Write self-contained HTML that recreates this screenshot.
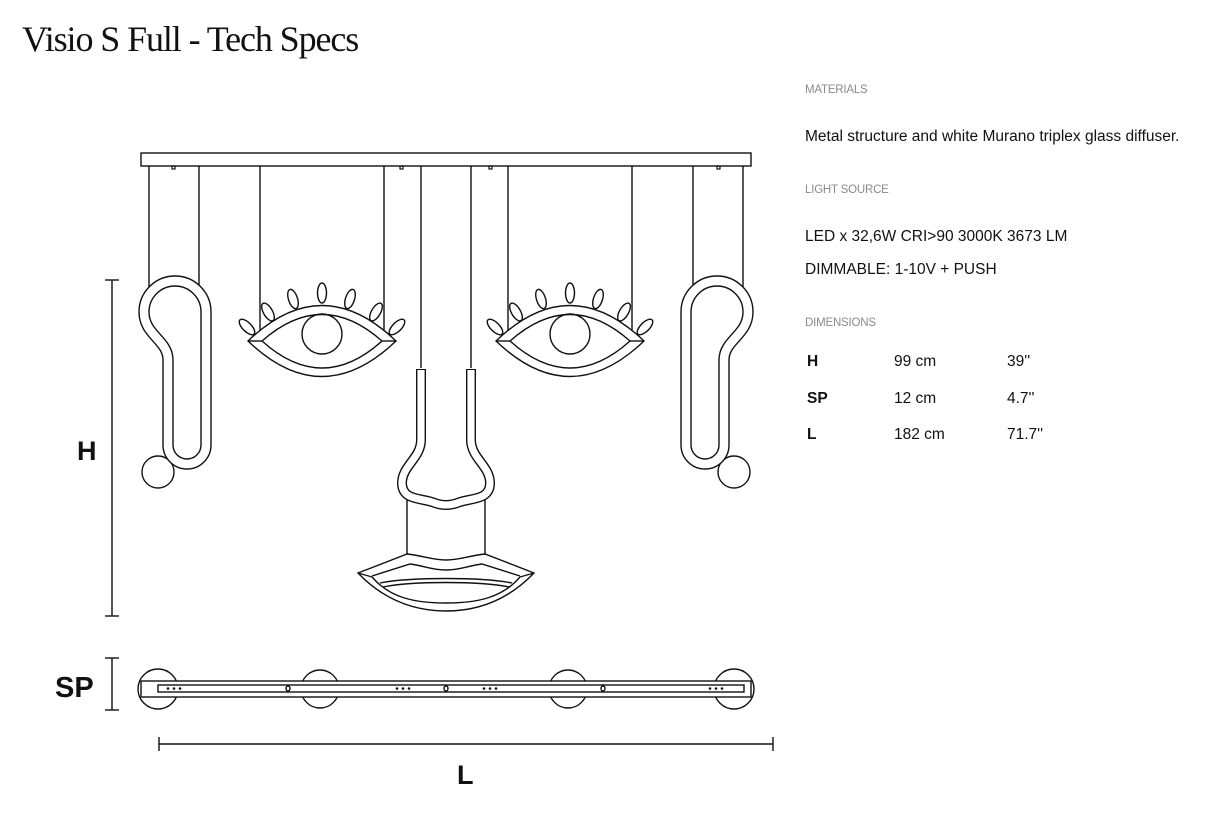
<!DOCTYPE html>
<html><head><meta charset="utf-8"><style>
html,body{margin:0;padding:0;background:#fff;}
body{width:1217px;height:824px;position:relative;overflow:hidden;font-family:"Liberation Sans",sans-serif;color:#111;}
.t{position:absolute;white-space:nowrap;}
.h{color:#8a8a8a;font-size:11.5px;letter-spacing:-0.2px;}
.b{font-size:15.5px;letter-spacing:0;}
</style></head><body>
<div class="t" style="left:22px;top:18px;font-family:'Liberation Serif',serif;font-size:36px;letter-spacing:-1.1px;">Visio S Full - Tech Specs</div>
<div class="t h" style="left:805px;top:84px;">MATERIALS</div>
<div class="t b" style="left:805px;top:128px;">Metal structure and white Murano triplex glass diffuser.</div>
<div class="t h" style="left:805px;top:184px;">LIGHT SOURCE</div>
<div class="t b" style="left:805px;top:228px;">LED x 32,6W CRI&gt;90 3000K 3673 LM</div>
<div class="t b" style="left:805px;top:261px;">DIMMABLE: 1-10V + PUSH</div>
<div class="t h" style="left:805px;top:317px;">DIMENSIONS</div>
<div class="t b" style="left:807px;top:353px;font-weight:bold;">H</div>
<div class="t b" style="left:894px;top:353px;">99 cm</div>
<div class="t b" style="left:1007px;top:353px;">39''</div>
<div class="t b" style="left:807px;top:390px;font-weight:bold;">SP</div>
<div class="t b" style="left:894px;top:390px;">12 cm</div>
<div class="t b" style="left:1007px;top:390px;">4.7''</div>
<div class="t b" style="left:807px;top:426px;font-weight:bold;">L</div>
<div class="t b" style="left:894px;top:426px;">182 cm</div>
<div class="t b" style="left:1007px;top:426px;">71.7''</div>

<svg width="1217" height="824" style="position:absolute;left:0;top:0" fill="none" stroke="#111" stroke-width="1.4">
<defs>
<g id="side">
 <line x1="149" y1="166" x2="149" y2="290"/><line x1="199" y1="166" x2="199" y2="290"/>
 <circle cx="158" cy="472" r="16" fill="#fff"/>
 <path d="M206 445 L206 312 A31 31 0 0 0 144 312 C144 335 168 340 168 360 L168 445 A19 19 0 0 0 206 445 Z" stroke-width="11.4"/>
 <path d="M206 445 L206 312 A31 31 0 0 0 144 312 C144 335 168 340 168 360 L168 445 A19 19 0 0 0 206 445 Z" stroke="#fff" stroke-width="8.6"/>
</g>
<g id="eye">
 <line x1="260" y1="166" x2="260" y2="333"/><line x1="384" y1="166" x2="384" y2="333"/>
 <g fill="#fff">
 <ellipse cx="247" cy="327" rx="4.5" ry="10" transform="rotate(-45 247 327)"/>
 <ellipse cx="268" cy="312" rx="4.5" ry="10" transform="rotate(-30 268 312)"/>
 <ellipse cx="293" cy="299" rx="4.5" ry="10" transform="rotate(-18 293 299)"/>
 <ellipse cx="322" cy="293" rx="4.5" ry="10"/>
 <ellipse cx="350" cy="299" rx="4.5" ry="10" transform="rotate(18 350 299)"/>
 <ellipse cx="376" cy="312" rx="4.5" ry="10" transform="rotate(30 376 312)"/>
 <ellipse cx="397" cy="327" rx="4.5" ry="10" transform="rotate(45 397 327)"/>
 </g>
 <path d="M248 341 Q322 270 396 341 Q322 412 248 341 Z" fill="#fff"/>
 <path d="M262 341 Q322 288 382 341 Q322 395 262 341 Z"/>
 <line x1="248" y1="341" x2="262" y2="341"/><line x1="382" y1="341" x2="396" y2="341"/>
 <circle cx="322" cy="334" r="20"/>
</g>
</defs>
<rect x="141" y="153" width="610" height="13"/>
<g stroke-width="1.2">
<rect x="172" y="166" width="3" height="3"/><rect x="400" y="166" width="3" height="3"/><rect x="489" y="166" width="3" height="3"/><rect x="717" y="166" width="3" height="3"/>
</g>
<use href="#side"/>
<use href="#side" transform="translate(892 0) scale(-1 1)"/>
<use href="#eye"/>
<use href="#eye" transform="translate(248 0)"/>
<line x1="421" y1="166" x2="421" y2="368"/><line x1="471" y1="166" x2="471" y2="368"/>
<line x1="407" y1="500" x2="407" y2="554"/><line x1="485" y1="500" x2="485" y2="554"/>
<path d="M421 369 L421 440 C421 458 402 466 402 483 C402 500 420 498 432 502 C442 506 450 506 460 502 C472 498 490 500 490 483 C490 466 471 458 471 440 L471 369" stroke-width="10"/>
<path d="M421 370 L421 440 C421 458 402 466 402 483 C402 500 420 498 432 502 C442 506 450 506 460 502 C472 498 490 500 490 483 C490 466 471 458 471 440 L471 370" stroke="#fff" stroke-width="7.2"/>
<path d="M358 573 L407 554 C425 556 432 560 446 560 C460 560 467 556 485 554 L534 573 C510 598 480 611 446 611 C412 611 382 598 358 573 Z" fill="#fff"/>
<path d="M372 576 L410 564 C425 566 432 570 446 570 C460 570 467 566 482 564 L520 576"/>
<path d="M372 577 C390 598 415 603 446 603 C477 603 502 598 520 577"/>
<path d="M380 583 C410 577 482 577 512 583"/>
<path d="M383 587 C412 581 480 581 509 587"/>
<line x1="358" y1="573" x2="372" y2="577"/><line x1="520" y1="577" x2="534" y2="573"/>
<g>
<circle cx="158" cy="689" r="20"/>
<circle cx="320" cy="689" r="19"/><circle cx="568" cy="689" r="19"/><circle cx="734" cy="689" r="20"/>
</g>
<rect x="141" y="681" width="610" height="16" fill="#fff"/>
<rect x="158" y="685" width="586" height="7"/>
<g fill="#111" stroke="none">
<circle cx="168" cy="688.5" r="1.3"/><circle cx="174" cy="688.5" r="1.3"/><circle cx="180" cy="688.5" r="1.3"/>
<circle cx="397" cy="688.5" r="1.3"/><circle cx="403" cy="688.5" r="1.3"/><circle cx="409" cy="688.5" r="1.3"/>
<circle cx="484" cy="688.5" r="1.3"/><circle cx="490" cy="688.5" r="1.3"/><circle cx="496" cy="688.5" r="1.3"/>
<circle cx="710" cy="688.5" r="1.3"/><circle cx="716" cy="688.5" r="1.3"/><circle cx="722" cy="688.5" r="1.3"/>
</g>
<ellipse cx="288" cy="688.5" rx="2" ry="2.5" fill="#fff"/><ellipse cx="446" cy="688.5" rx="2" ry="2.5" fill="#fff"/><ellipse cx="603" cy="688.5" rx="2" ry="2.5" fill="#fff"/>
<line x1="112" y1="280" x2="112" y2="616"/><line x1="105" y1="280" x2="119" y2="280"/><line x1="105" y1="616" x2="119" y2="616"/>
<line x1="112" y1="658" x2="112" y2="710"/><line x1="105" y1="658" x2="119" y2="658"/><line x1="105" y1="710" x2="119" y2="710"/>
<line x1="159" y1="744" x2="773" y2="744"/><line x1="159" y1="737" x2="159" y2="751"/><line x1="773" y1="737" x2="773" y2="751"/>
<g fill="#111" stroke="none" font-family="Liberation Sans, sans-serif" font-weight="bold" font-size="27">
<text x="77" y="460">H</text><text x="55" y="697" font-size="29">SP</text><text x="457" y="784">L</text>
</g>
</svg>
</body></html>
